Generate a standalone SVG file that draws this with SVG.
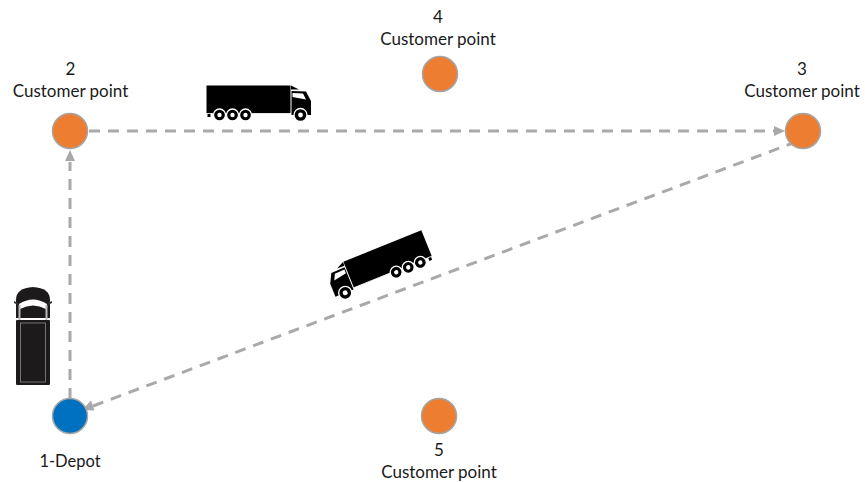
<svg xmlns="http://www.w3.org/2000/svg" width="865" height="482" viewBox="0 0 865 482">
<style>
.t{font-family:Lato,"Open Sans","Liberation Sans",sans-serif;font-size:17px;fill:#1a1a1a;text-anchor:middle}
.d{font-size:16.500px}
.o{fill:#ed7d31;stroke:#a5a5a5;stroke-width:1.5}
.b{fill:#0070c0;stroke:#a5a5a5;stroke-width:1.5}
.c{fill:none;stroke:#a9a9a9;stroke-width:3;stroke-dasharray:11 8}
.h{fill:#a9a9a9}
</style>
<defs>
<g id="truck">
<rect x="206.500" y="85.500" width="84" height="28" fill="#000"/>
<rect x="207.500" y="112" width="3" height="5" fill="#000"/>
<path d="M291 85.500 L299 89.500 L291 89.500 Z" fill="#000"/>
<path d="M291.500 91 L306 91.500 L311 101 L311 115 L291.500 115 Z" fill="#000"/>
<path d="M292.500 93 L303 93.500 L306 99.500 L292.500 97 Z" fill="#fff"/>
<path d="M206.500 113.500H291" stroke="#fff" stroke-width="0.800"/>
<g fill="#000" stroke="#fff" stroke-width="1.300">
<circle cx="219.500" cy="115" r="6"/><circle cx="232.500" cy="115" r="6"/><circle cx="245.500" cy="115" r="6"/><circle cx="300.500" cy="115" r="6.500"/>
</g>
<g fill="#fff"><circle cx="219.500" cy="115" r="2.200"/><circle cx="232.500" cy="115" r="2.200"/><circle cx="245.500" cy="115" r="2.200"/><circle cx="300.500" cy="115" r="2.400"/></g>
</g>
</defs>
<g id="connectors">
<path class="c" d="M70 399V162"/><path class="h" d="M70 150l-5 11h10z"/>
<path class="c" d="M89 131H775"/><path class="h" d="M785 131l-11-5v10z"/>
<path class="c" d="M93 406L793 143"/><path class="h" d="M82 410l12.500 0.500-3.500-10z"/>
</g>
<g id="truck-top"><use href="#truck"/></g>
<g id="truck-diagonal"><use href="#truck" transform="translate(379 263) rotate(-22) scale(-1 1) translate(-258 -100)"/></g>
<g id="van">
<path d="M16 318V300Q16 288 33 287Q50 288 50 300V318Z" fill="#1c1a1a"/>
<path d="M19 304Q33 295 47 304L46 309Q33 302 20 309Z" fill="#fff"/>
<path d="M14 301l4 2v2l-4-2zM52 301l-4 2v2l4-2z" fill="#333"/>
<path d="M18.500 305h2v15h-2zM45.500 305h2v15h-2z" fill="#bbb"/>
<rect x="16" y="320" width="34" height="65" rx="1" fill="#1c1a1a"/>
<rect x="20.500" y="323" width="25" height="59" fill="none" stroke="#8a8a8a" stroke-width="0.800"/>
</g>
<g id="node-1"><circle class="b" cx="70" cy="416" r="17.500"/><text class="t d" x="70" y="466.500">1-Depot</text></g>
<g id="node-2"><circle class="o" cx="70" cy="131" r="17.500"/><text class="t" x="70.500" y="74.500">2</text><text class="t" x="70.500" y="96.500">Customer point</text></g>
<g id="node-3"><circle class="o" cx="803" cy="131" r="17.500"/><text class="t" x="802" y="74.500">3</text><text class="t" x="802" y="96.500">Customer point</text></g>
<g id="node-4"><circle class="o" cx="440" cy="74" r="17.500"/><text class="t" x="438" y="22.500">4</text><text class="t" x="438" y="44.500">Customer point</text></g>
<g id="node-5"><circle class="o" cx="439" cy="416" r="17.500"/><text class="t" x="439" y="455.500">5</text><text class="t" x="439" y="477.500">Customer point</text></g>
</svg>
